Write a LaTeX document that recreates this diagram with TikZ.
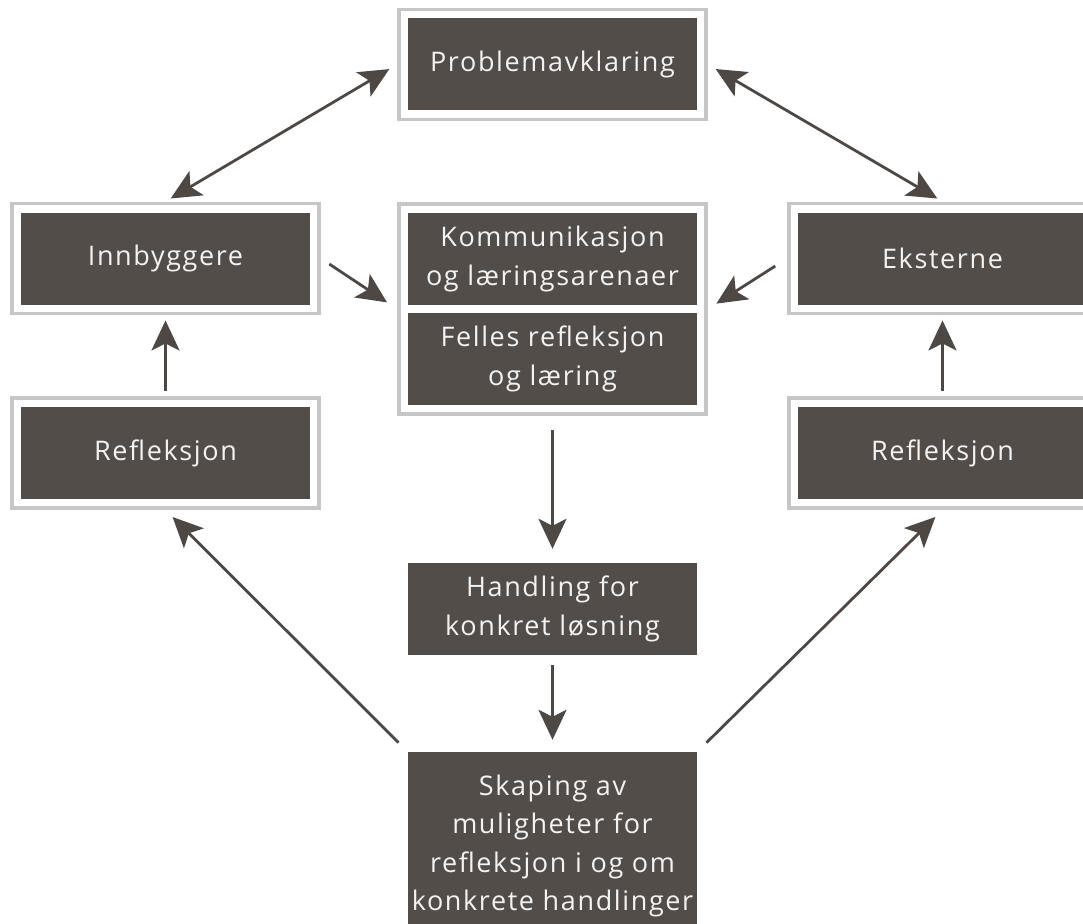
\documentclass[tikz,border=0pt]{standalone}
\usepackage{fontspec}
\setmainfont[LetterSpace=6]{Open Sans}
\usepackage{tikz}
\usetikzlibrary{arrows.meta,fit}

\definecolor{boxfill}{RGB}{83,77,73}
\definecolor{arrowcol}{RGB}{78,72,69}
\definecolor{framecol}{RGB}{198,198,198}
\definecolor{boxtext}{RGB}{244,243,241}

\tikzset{
  bigtip/.tip={Stealth[length=30pt,width=28pt,inset=7pt]},
  box/.style={rectangle, fill=boxfill, text=boxtext, minimum width=289pt,
    minimum height=92pt, inner sep=0pt, align=center,
    font=\fontsize{27}{38.5}\selectfont},
  frame/.style={rectangle, draw=framecol, line width=3.5pt, inner sep=9pt},
  arr/.style={draw=arrowcol, line width=2.8pt, -bigtip},
  dbl/.style={arr, bigtip-bigtip}
}

\begin{document}
\begin{tikzpicture}[x=1pt, y=-1pt]
            % Page size
            \clip (0,0) rectangle (1083,923);

            % Boxes
            \node[box] (prob) at (552.5,64.5) {Problemavklaring};
            \node[box] (innb) at (165.5,258.5) {Innbyggere};
            \node[box] (komm) at (552.5,259) {Kommunikasjon\\og læringsarenaer};
            \node[box] (felles) at (552.5,359) {Felles refleksjon\\og læring};
            \node[box] (ekst) at (942.5,258.5) {Eksterne};
            \node[box] (reflL) at (165.5,453) {Refleksjon};
            \node[box] (reflR) at (942.5,453) {Refleksjon};
            \node[box] (hand) at (552.5,609) {Handling for\\konkret løsning};
            \node[box, minimum height=188pt] (skap) at (552.5,846)
              {Skaping av\\muligheter for\\refleksjon i og om\\konkrete handlinger};

            % Frames
            \node[frame, fit=(prob)] (probF) {};
            \node[frame, fit=(innb)] (innbF) {};
            \node[frame, fit=(komm)(felles)] (centF) {};
            \node[frame, fit=(ekst)] (ekstF) {};
            \node[frame, fit=(reflL)] (reflLF) {};
            \node[frame, fit=(reflR)] (reflRF) {};

            % Arrows
            \draw[dbl, shorten <=9pt, shorten >=6pt] (probF.west) -- (innbF.north);
            \draw[dbl, shorten <=9pt, shorten >=6pt] (probF.east) -- (ekstF.north);
            \draw[arr, shorten <=10pt, shorten >=12pt] (innbF.east) -- (centF.west);
            \draw[arr, shorten <=14pt, shorten >=10pt] (ekstF.west) -- (centF.east);
            \draw[arr, shorten <=5pt, shorten >=5pt] (reflLF.north) -- (innbF.south);
            \draw[arr, shorten <=5pt, shorten >=5pt] (reflRF.north) -- (ekstF.south);
            \draw[arr, shorten <=14pt, shorten >=14pt] (centF.south) -- (hand.north);
            \draw[arr, shorten <=10pt, shorten >=12pt] (hand.south) -- (skap.north);
            \draw[arr, shorten <=13pt, shorten >=10pt] (skap.north west) -- (reflLF.south);
            \draw[arr, shorten <=13pt, shorten >=10pt] (skap.north east) -- (reflRF.south);
        \end{tikzpicture}
\end{document}
